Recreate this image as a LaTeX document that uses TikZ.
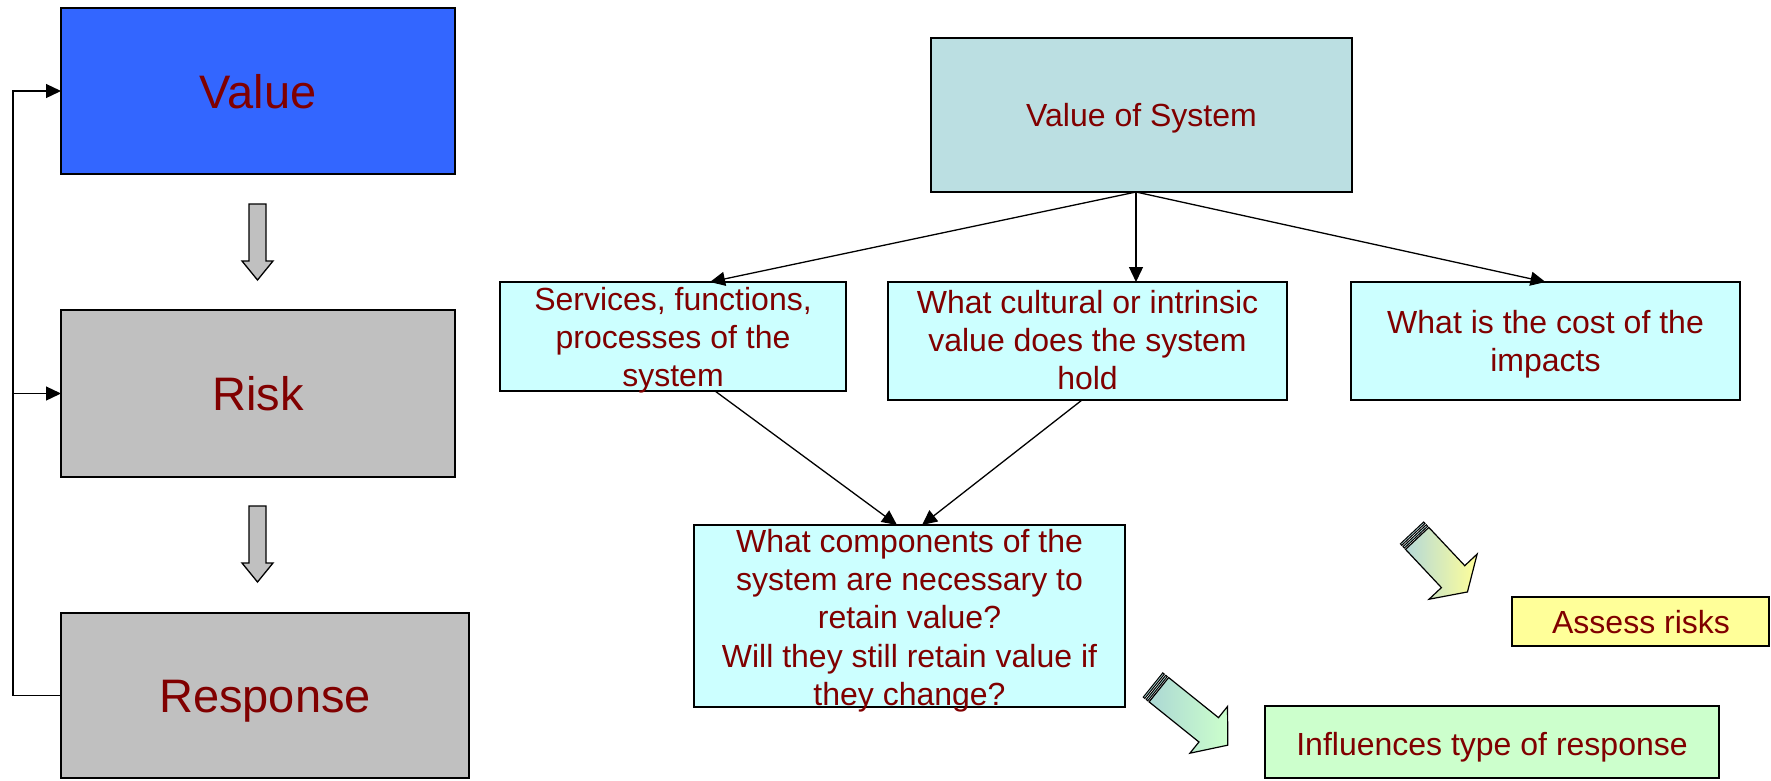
\documentclass[tikz,border=0pt]{standalone}
\usepackage{fontspec}
\setmainfont{Liberation Sans}
\usetikzlibrary{arrows.meta,calc}
\definecolor{txt}{HTML}{800000}
\definecolor{valblue}{HTML}{3366FF}
\definecolor{grayfill}{HTML}{C0C0C0}
\definecolor{vosfill}{HTML}{BBDFE2}
\definecolor{lcyan}{HTML}{CCFFFF}
\definecolor{lyellow}{HTML}{FFFF99}
\definecolor{lgreen}{HTML}{CCFFCC}
\definecolor{tailA}{HTML}{B4D8D8}
\definecolor{tailB}{HTML}{ACD8D4}
\newcommand\sarrow[9]{%
\begin{scope}[shift={(#1,#2)}, rotate=#3]
 \draw[line width=1.2pt, line join=miter, left color=#9, right color=#8]
   (7.5,-#7) -- (#5,-#7) -- (#5,-#6) -- (#4,0) -- (#5,#6) -- (#5,#7) -- (7.5,#7) -- cycle;
 \draw[line width=1pt, fill=#9] (0,-#7) rectangle (2,#7);
 \draw[line width=1pt, fill=#9] (3.8,-#7) rectangle (5.8,#7);
\end{scope}}
\begin{document}
\begin{tikzpicture}[x=1pt,y=-1pt,
  box/.style={draw=black, line width=1.5pt, rectangle, inner sep=0pt, outer sep=0pt},
  big/.style={font=\fontsize{47}{56}\selectfont, text=txt, inner sep=0pt, anchor=base},
  small/.style={font=\fontsize{32}{38.3}\selectfont, text=txt, inner sep=0pt, align=center},
  conn/.style={line width=1.3pt, -{Triangle[length=15pt,width=14pt]}},
  blockarrow/.style={draw=black, fill=grayfill, line width=1.3pt, line join=miter}]
\useasboundingbox (0,0) rectangle (1771,780);

% left column
\node[box, fill=valblue, minimum width=394pt, minimum height=166pt] (value) at (258,91) {};
\node[big] (tvalue) at (258,108) {Value};
\node[box, fill=grayfill, minimum width=394pt, minimum height=167pt] (risk) at (258,393.5) {};
\node[big] (trisk) at (258,410.5) {Risk};
\node[box, fill=grayfill, minimum width=408pt, minimum height=165pt] (resp) at (265,695.5) {};
\node[big] (tresp) at (265,712.5) {Response};

\draw[blockarrow] (249,204) -- (266,204) -- (266,261) -- (273,261) -- (257.5,280) -- (242,261) -- (249,261) -- cycle;
\draw[blockarrow] (249,506) -- (266,506) -- (266,563) -- (273,563) -- (257.5,582) -- (242,563) -- (249,563) -- cycle;

\coordinate (fb) at (13,0);
\draw[conn] (resp.west) -- (resp.west -| fb) -- (value.west -| fb) -- (value.west);
\draw[conn] (risk.west -| fb) -- (risk.west);

% right part
\node[box, fill=vosfill, minimum width=421pt, minimum height=154pt] (vos) at (1141.5,115) {};
\node[small, anchor=base] (tvos) at (1141.5,126.7) {Value of System};

\node[box, fill=lcyan, minimum width=346pt, minimum height=109pt] (serv) at (673,336.5) {};
\node[small, anchor=north] (tserv) at (673,286) {\rule{0pt}{24pt}Services, functions,\\processes of the\\system};

\node[box, fill=lcyan, minimum width=399pt, minimum height=118pt] (cult) at (1087.5,341) {};
\node[small, anchor=north] (tcult) at (1087.5,289) {\rule{0pt}{24pt}What cultural or intrinsic\\value does the system\\hold};

\node[box, fill=lcyan, minimum width=389pt, minimum height=118pt] (cost) at (1545.5,341) {};
\node[small, anchor=north] (tcost) at (1545.5,309.3) {\rule{0pt}{24pt}What is the cost of the\\impacts};

\node[box, fill=lcyan, minimum width=431pt, minimum height=182pt] (comp) at (909.5,616) {};
\node[small, anchor=north] (tcomp) at (909.5,528) {\rule{0pt}{24pt}What components of the\\system are necessary to\\retain value?\\Will they still retain value if\\they change?};

\node[box, fill=lyellow, minimum width=257pt, minimum height=49pt] (assess) at (1640.5,621.5) {};
\node[small, anchor=base] (tassess) at (1641,633) {Assess risks};

\node[box, fill=lgreen, minimum width=454pt, minimum height=72pt] (infl) at (1492,742) {};
\node[small, anchor=base] (tinfl) at (1492,755) {Influences type of response};

% connectors
\coordinate (vosb) at ([xshift=-5.5pt]vos.south);
\draw[conn] (vosb) -- ([xshift=37pt]serv.north);
\draw[conn] (vosb) -- (vosb |- cult.north);
\draw[conn] (vosb) -- (cost.north);
\draw[conn] ([xshift=42pt]serv.south) -- ([xshift=-12.5pt]comp.north);
\draw[conn] ([xshift=-5.5pt]cult.south) -- ([xshift=12.5pt]comp.north);

% striped arrows
\sarrow{1412}{532.9}{-46.8}{81}{60}{33}{16}{lyellow}{tailA}
\sarrow{1153}{685}{-38.8}{96}{71.5}{30}{15.6}{lgreen}{tailB}
\end{tikzpicture}
\end{document}
